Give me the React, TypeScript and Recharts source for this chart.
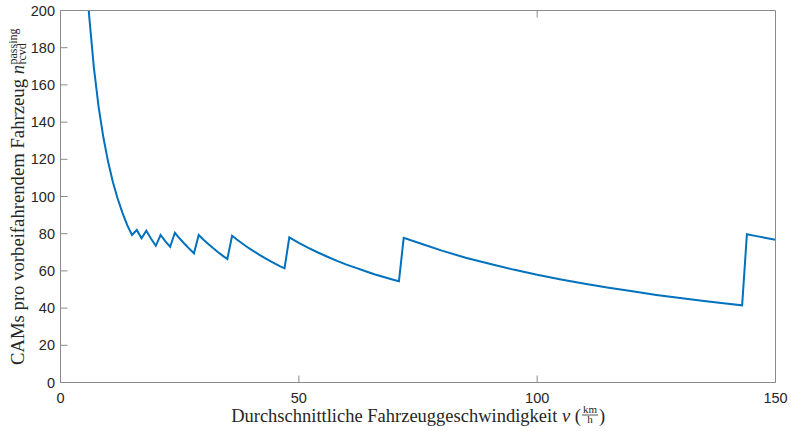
import React from 'react';
import { LineChart, Line, XAxis, YAxis, Label } from 'recharts';

// Average vehicle speed in km/h (sampled at the speeds where the curve changes shape)
const speedKmh = [
  5, 6, 7, 8, 9, 10, 11, 12, 13, 14, 15,
  16, 17,
  18, 19, 20,
  21, 22, 23,
  24, 25, 26, 27, 28,
  29, 30, 31, 32, 33, 34, 35,
  36, 37, 38, 39, 40, 41, 42, 43, 44, 45, 46, 47,
  48, 50, 52, 54, 56, 58, 60, 62, 64, 66, 68, 70, 71,
  72, 76, 80, 85, 90, 95, 100, 105, 110, 115, 120, 125, 130, 135, 140, 143,
  144, 146, 148, 150,
];

// CAMs received per passing vehicle
const camsPerVehicle = [
  237, 197.5, 169.3, 148.1, 131.7, 118.5, 107.7, 98.8, 91.2, 84.6, 79.3,
  82.0, 77.5,
  81.6, 77.3, 73.5,
  79.3, 75.9, 73.0,
  80.5, 77.4, 74.6, 72.0, 69.5,
  79.3, 76.8, 74.5, 72.3, 70.2, 68.2, 66.4,
  78.9, 76.9, 75.0, 73.1, 71.4, 69.8, 68.2, 66.7, 65.3, 63.9, 62.6, 61.4,
  78.0, 75.1, 72.4, 69.9, 67.6, 65.4, 63.4, 61.6, 59.8, 58.1, 56.6, 55.1, 54.4,
  77.8, 74.3, 70.9, 67.1, 63.8, 60.7, 57.9, 55.4, 53.1, 51.0, 49.0, 47.1, 45.4, 43.8, 42.4, 41.5,
  79.7, 78.7, 77.7, 76.8,
];

const xTicks = [0, 50, 100, 150];
const yTicks = [0, 20, 40, 60, 80, 100, 120, 140, 160, 180, 200];

const data = speedKmh.map((v, i) => ({ v, cams: camsPerVehicle[i] }));

const AXIS_COLOR = '#8a8a8a';
const TEXT_COLOR = '#262626';
const tickFont = { fontFamily: '"Liberation Sans", Arial, sans-serif', fontSize: 14.5, fill: TEXT_COLOR };
const labelFont = '"Liberation Serif", "Times New Roman", serif';

const XAxisTitle = () => {
  const q = 581; // point where the unit fraction starts
  const base = 422;
  return (
    <g fontFamily={labelFont} fill={TEXT_COLOR}>
      <text x={q} y={base} fontSize={18.5} textAnchor="end">
        Durchschnittliche Fahrzeuggeschwindigkeit <tspan fontStyle="italic">v</tspan> (
      </text>
      <text x={q + 9} y={412.5} fontSize={11} textAnchor="middle">km</text>
      <line x1={q + 1} x2={q + 17} y1={415} y2={415} stroke={TEXT_COLOR} strokeWidth={0.8} />
      <text x={q + 9} y={423} fontSize={11} textAnchor="middle">h</text>
      <text x={q + 18} y={base} fontSize={18.5} textAnchor="start">)</text>
    </g>
  );
};

const YAxisTitle = () => {
  const p = 65; // vertical position where the n scripts begin
  return (
    <g transform={`translate(23.5, ${p}) rotate(-90)`} fontFamily={labelFont} fill={TEXT_COLOR}>
      <text x={0} y={0} fontSize={18.7} textAnchor="end">
        CAMs pro vorbeifahrendem Fahrzeug <tspan fontStyle="italic">n</tspan>
      </text>
      <text x={0.5} y={-6.5} fontSize={12} textAnchor="start">passing</text>
      <text x={0.5} y={2} fontSize={12} textAnchor="start">rcvd</text>
    </g>
  );
};

export default function App() {
  return (
    <div style={{ position: 'absolute', left: 0, top: 0, width: 791, height: 431, background: '#fff' }}>
      <LineChart
        width={791}
        height={431}
        data={data}
        margin={{ top: 9.5, right: 14.5, bottom: 18.5, left: 0.5 }}
      >
        <XAxis
          dataKey="v"
          type="number"
          domain={[0, 150]}
          ticks={xTicks}
          allowDataOverflow
          height={30}
          stroke={AXIS_COLOR}
          tickSize={-7}
          tickMargin={17}
          tick={tickFont}
          interval={0}
        >
          <Label content={() => <XAxisTitle />} />
        </XAxis>
        <XAxis
          xAxisId="top"
          orientation="top"
          type="number"
          domain={[0, 150]}
          ticks={xTicks}
          height={1}
          stroke={AXIS_COLOR}
          tickSize={-7}
          tickFormatter={() => ''}
          interval={0}
        />
        <YAxis
          type="number"
          domain={[0, 200]}
          ticks={yTicks}
          allowDataOverflow
          width={60}
          stroke={AXIS_COLOR}
          tickSize={-7}
          tickMargin={12.5}
          tick={tickFont}
          interval={0}
        >
          <Label content={() => <YAxisTitle />} />
        </YAxis>
        <YAxis
          yAxisId="right"
          orientation="right"
          type="number"
          domain={[0, 200]}
          ticks={yTicks}
          width={1}
          stroke={AXIS_COLOR}
          tickSize={-7}
          tickFormatter={() => ''}
          interval={0}
        />
        <Line
          type="linear"
          dataKey="cams"
          stroke="#0072BD"
          strokeWidth={2}
          dot={false}
          isAnimationActive={false}
        />
      </LineChart>
    </div>
  );
}
